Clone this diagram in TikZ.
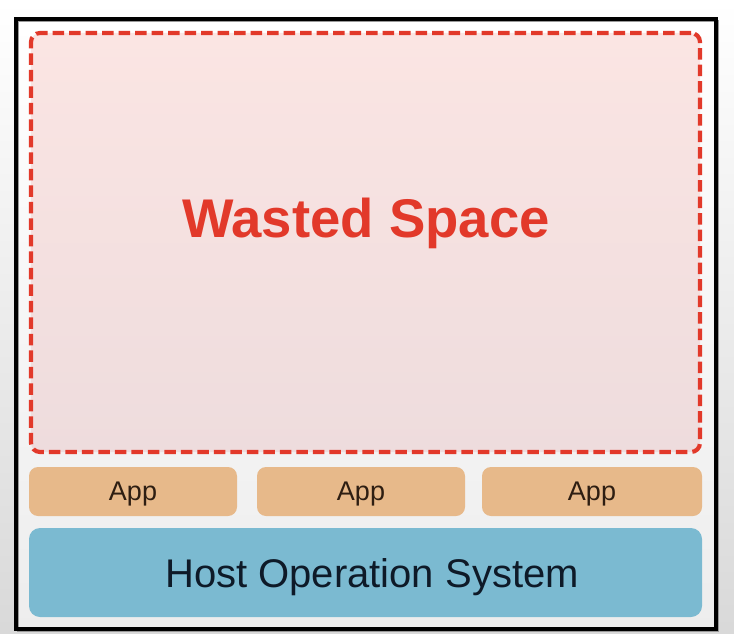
\documentclass[tikz,border=0pt]{standalone}
\usepackage{fontspec}
\setmainfont{Liberation Sans}
\usetikzlibrary{backgrounds}
\definecolor{wastered}{HTML}{E2392A}
\definecolor{wastepinktop}{HTML}{FBE5E3}
\definecolor{wastepinkbot}{HTML}{EEDCDD}
\definecolor{apptan}{HTML}{E7B98A}
\definecolor{apptext}{HTML}{2E1E12}
\definecolor{hostblue}{HTML}{7BBAD1}
\definecolor{hosttext}{HTML}{0E1A28}
\tikzset{
  appbox/.style={fill=apptan, rounded corners=9pt, draw=none},
  apptextstyle/.style={text=apptext, font=\fontsize{27}{27}\selectfont, anchor=base},
}
\begin{document}
\begin{tikzpicture}[x=1pt,y=-1pt]
  \useasboundingbox (0,0) rectangle (734,634);
  % page background
  \shade[top color=white, bottom color=black!15] (0,0) rectangle (734,634);
  % outer frame
  \shade[top color=white, bottom color=black!7] (16,19) rectangle (716,629);
  \draw[black!40, line width=1.5pt] (18,21) rectangle (718,631);
  \node[draw=black, line width=3.2pt, minimum width=700pt, minimum height=610pt, inner sep=0pt] (frame) at (366,324) {};
  % wasted space
  \shade[top color=wastepinktop, bottom color=wastepinkbot, rounded corners=9pt] (31,33) rectangle (700,452);
  \node[draw=wastered, line width=4.2pt, dash pattern=on 11.5pt off 5pt, rounded corners=9pt,
        minimum width=669pt, minimum height=419pt, inner sep=0pt] (waste) at (365.5,242.5) {};
  \node[text=wastered, font=\bfseries\fontsize{54.5}{54.5}\selectfont, anchor=base] (wastetext) at (366,237) {Wasted Space};
  % apps
  \node[appbox, minimum width=208pt, minimum height=49pt, inner sep=0pt] (app1) at (133,491.5) {};
  \node[appbox, minimum width=208pt, minimum height=49pt, inner sep=0pt] (app2) at (361,491.5) {};
  \node[appbox, minimum width=220pt, minimum height=49pt, inner sep=0pt] (app3) at (592,491.5) {};
  \node[apptextstyle] (app1t) at (133,500) {App};
  \node[apptextstyle] (app2t) at (361,500) {App};
  \node[apptextstyle] (app3t) at (592,500) {App};
  % host OS
  \node[fill=hostblue, rounded corners=11pt, minimum width=673pt, minimum height=89pt, inner sep=0pt] (host) at (365.5,572.5) {};
  \node[text=hosttext, font=\fontsize{40}{40}\selectfont, anchor=base] (hostt) at (372,587) {Host Operation System};
\end{tikzpicture}
\end{document}
